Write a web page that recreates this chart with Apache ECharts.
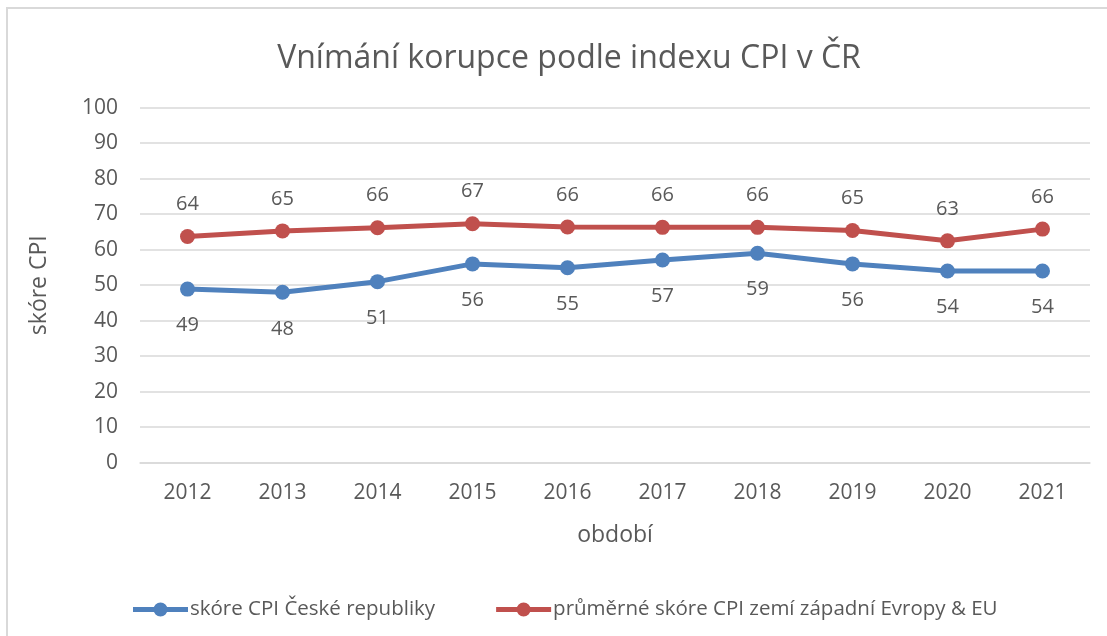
<!DOCTYPE html>
<html>
<head>
<meta charset="utf-8">
<script src="https://cdn.jsdelivr.net/npm/echarts@6/dist/echarts.min.js"></script>
<style>
  html,body{margin:0;padding:0;background:#fff;overflow:hidden;}
  #frame{position:absolute;left:6px;top:7px;width:1130px;height:660px;border:2px solid #d9d9d9;}
  #main{position:absolute;left:0;top:0;width:1107px;height:636px;}
</style>
</head>
<body>
<div id="frame"></div>
<div id="main"></div>
<script>
  const years = ['2012','2013','2014','2015','2016','2017','2018','2019','2020','2021']
  const czScore = [48.9, 48, 51, 56, 54.9, 57.1, 59, 56, 54, 54]
  const euScore = [63.7, 65.3, 66.2, 67.3, 66.4, 66.3, 66.3, 65.4, 62.5, 65.8]
  const yTicks = [0, 10, 20, 30, 40, 50, 60, 70, 80, 90, 100]

  const txt = '#595959'
  const font = '"Open Sans", "Noto Sans", sans-serif'
  // line + marker legend icon (thick line with a dot in the middle)
  const legendIcon = 'path://M0,5 L55,5 L55,10 L0,10 Z M20.5,7.5 A7,7 0 1,1 34.5,7.5 A7,7 0 1,1 20.5,7.5 Z'

  var myChart = echarts.init(document.getElementById('main'), null, {renderer: 'canvas'})
  myChart.setOption({
    animation: false,
    title: {
      text: 'Vnímání korupce podle indexu CPI v ČR',
      left: 564,
      textAlign: 'center',
      top: 38,
      textStyle: {color: txt, fontSize: 32, fontWeight: 'normal', fontFamily: font}
    },
    legend: {
      top: 594,
      left: 128,
      itemGap: 61,
      itemWidth: 55,
      itemHeight: 15,
      icon: legendIcon,
      textStyle: {color: txt, fontSize: 20.5, fontFamily: font, padding: [0, 0, 0, -3]},
      data: ['skóre CPI České republiky', 'průměrné skóre CPI zemí západní Evropy & EU']
    },
    grid: {left: 140, right: 17, top: 107.7, bottom: 173.3, containLabel: false},
    xAxis: {
      type: 'category',
      data: years,
      boundaryGap: true,
      name: 'období',
      nameLocation: 'middle',
      nameGap: 61,
      nameTextStyle: {color: txt, fontSize: 23, fontFamily: font},
      axisLine: {lineStyle: {color: '#d9d9d9', width: 1.5}},
      axisTick: {show: false},
      axisLabel: {color: txt, fontSize: 21, fontFamily: font, margin: 20}
    },
    yAxis: {
      type: 'value',
      min: yTicks[0],
      max: yTicks[yTicks.length - 1],
      interval: 10,
      name: 'skóre CPI',
      nameLocation: 'middle',
      nameGap: 89,
      nameTextStyle: {color: txt, fontSize: 23, fontFamily: font},
      axisLine: {show: false},
      axisTick: {show: false},
      splitLine: {lineStyle: {color: '#d9d9d9', width: 1.5}},
      axisLabel: {color: txt, fontSize: 21, fontFamily: font, margin: 22}
    },
    series: [
      {
        name: 'skóre CPI České republiky',
        type: 'line',
        data: czScore,
        symbol: 'circle',
        symbolSize: 15,
        color: '#4f81bd',
        lineStyle: {width: 5},
        label: {
          show: true, position: 'bottom', distance: 19,
          color: txt, fontSize: 20, fontFamily: font,
          formatter: p => Math.round(p.value)
        }
      },
      {
        name: 'průměrné skóre CPI zemí západní Evropy & EU',
        type: 'line',
        data: euScore,
        symbol: 'circle',
        symbolSize: 15,
        color: '#c0504d',
        lineStyle: {width: 5},
        label: {
          show: true, position: 'top', distance: 14.5,
          color: txt, fontSize: 20, fontFamily: font,
          formatter: p => Math.round(p.value)
        }
      }
    ]
  })
</script>
</body>
</html>
